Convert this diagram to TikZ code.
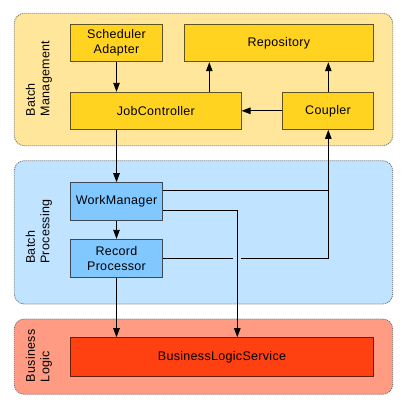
\documentclass[tikz,border=0pt]{standalone}
\usepackage{fontspec}
\setmainfont[LetterSpace=2.5]{Liberation Sans}
\usetikzlibrary{arrows.meta}
\definecolor{ypanel}{RGB}{255,230,155}
\definecolor{ybox}{RGB}{255,211,32}
\definecolor{yline}{RGB}{95,82,35}
\definecolor{bpanel}{RGB}{192,228,255}
\definecolor{bbox}{RGB}{128,200,255}
\definecolor{bline}{RGB}{60,72,85}
\definecolor{rpanel}{RGB}{255,155,130}
\definecolor{rbox}{RGB}{255,64,16}
\definecolor{rline}{RGB}{100,32,12}
\definecolor{pline}{RGB}{100,100,100}
\begin{document}
\begin{tikzpicture}[x=1pt,y=-1pt,
  font=\fontsize{12.5}{14.5}\selectfont,
  panel/.style={draw=pline,line width=0.8pt,dash pattern=on 1pt off 1pt,rounded corners=10pt},
  comp/.style={draw,line width=1pt,inner sep=0pt,align=center},
  ycomp/.style={comp,fill=ybox,draw=yline},
  bcomp/.style={comp,fill=bbox,draw=bline},
  rcomp/.style={comp,fill=rbox,draw=rline},
  plabel/.style={rotate=90,align=left,inner sep=0pt},
  conn/.style={line width=0.9pt,black},
  arr/.style={conn,-{Triangle[length=9pt,width=6.5pt]}}]
\useasboundingbox (0,0) rectangle (406,407);
\fill[white] (0,0) rectangle (406,407);
% panels
\draw[panel,fill=ypanel] (14.3,13.3) rectangle (392.7,145.7);
\draw[panel,fill=bpanel] (14.3,160.7) rectangle (392.7,304);
\draw[panel,fill=rpanel] (14.3,319) rectangle (392.7,394.3);
\node[plabel] (lm) at (39,78.5) {Batch\\Management};
\node[plabel] (lp) at (39,231.5) {Batch\\Processing};
\node[plabel] (lb) at (39,355.7) {Business\\Logic};
% components
\node[ycomp,minimum width=91.6pt,minimum height=37.7pt] (sched) at (116.5,42.85) {Scheduler\\Adapter};
\node[ycomp,minimum width=189pt,minimum height=37.7pt] (repo) at (278.8,42.85) {Repository};
\node[ycomp,minimum width=170.3pt,minimum height=37pt] (jc) at (155.85,110.8) {JobController};
\node[ycomp,minimum width=90.6pt,minimum height=37pt] (coup) at (328,110.8) {Coupler};
\node[bcomp,minimum width=91.6pt,minimum height=38pt] (wm) at (116.5,201.7) {WorkManager};
\node[bcomp,minimum width=91.6pt,minimum height=38pt] (rp) at (116.5,258.3) {Record\\Processor};
\node[rcomp,minimum width=302.6pt,minimum height=38.3pt] (bls) at (222,356.85) {BusinessLogicService};
% helper coordinates
\coordinate (xa) at (209.3,0);
\coordinate (xb) at (237.3,0);
\coordinate (xc) at (328.3,0);
\coordinate (wmA) at ([yshift=11pt]wm.east);
\coordinate (wmB) at ([yshift=-8.3pt]wm.east);
\coordinate (gapL) at (233.3,258.3);
\coordinate (gapR) at (241,258.3);
\coordinate (joint) at (xc |- wmA);
% connectors
\draw[arr] (sched.south) -- (sched.south |- jc.north);
\draw[arr] (xa |- jc.north) -- (xa |- repo.south);
\draw[arr] (xc |- coup.north) -- (xc |- repo.south);
\draw[arr] (coup.west) -- (coup.west -| jc.east);
\draw[arr] (jc.south -| wm.north) -- (wm.north);
\draw[arr] (wm.south) -- (rp.north);
\draw[arr] (wmA) -- (joint) -- (xc |- coup.south);
\draw[arr] (wmB) -| (xb |- bls.north);
\draw[conn] (rp.east) -- (gapL);
\draw[conn] (gapR) -| (joint);
\draw[arr] (rp.south) -- (rp.south |- bls.north);
\end{tikzpicture}
\end{document}
